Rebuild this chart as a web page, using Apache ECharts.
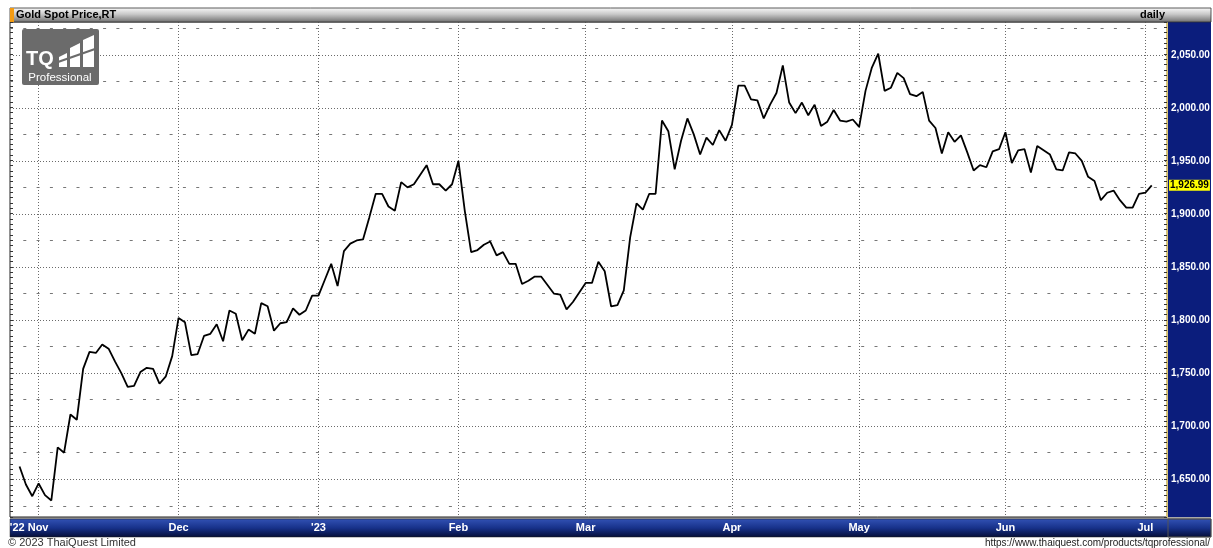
<!DOCTYPE html>
<html><head><meta charset="utf-8">
<script src="https://cdn.jsdelivr.net/npm/echarts@6/dist/echarts.min.js"></script>
<style>html,body{margin:0;padding:0;background:#fff;}#c{width:1213px;height:548px;}</style>
</head><body><div id="c"></div>
<script>
// ---- data ----
const chartTitle = 'Gold Spot Price,RT';
const periodLabel = 'daily';
const startDate = '2022-10-27';
const endDate = '2023-07-04';
const prices = [
 1662,1645,1634,1646,1635,1630,1680,1675,1711,1706,
 1754,1770,1769,1777,1773,1761,1750,1737,1738,1751,
 1755,1754,1740,1747,1766,1802,1798,1767,1768,1785,
 1787,1796,1780,1809,1806,1781,1791,1787,1816,1813,
 1790,1797,1798,1811,1805,1809,1823,1823,1838,1853,
 1832,1865,1872,1875,1876,1897,1919,1919,1907,1903,
 1930,1925,1928,1937,1946,1928,1928,1922,1928,1950,
 1903,1864,1866,1871,1874,1861,1864,1853,1853,1834,
 1837,1841,1841,1833,1825,1824,1810,1817,1826,1835,
 1835,1855,1846,1813,1814,1828,1878,1910,1904,1919,
 1919,1988,1978,1942,1969,1990,1975,1956,1972,1965,
 1979,1969,1984,2021,2021,2008,2007,1990,2003,2014,
 2040,2005,1995,2005,1993,2003,1983,1987,1998,1988,
 1987,1989,1982,2016,2038,2051,2016,2019,2033,2028,
 2013,2011,2015,1988,1981,1957,1977,1968,1974,1958,
 1941,1946,1944,1959,1961,1977,1948,1960,1961,1939,
 1964,1960,1956,1942,1941,1958,1957,1950,1935,1931,
 1913,1920,1922,1913,1906,1906,1919,1920,1926.99
];
const monthLabels = ["'22 Nov","Dec","'23","Feb","Mar","Apr","May","Jun","Jul"];
const yLabelValues = [1650,1700,1750,1800,1850,1900,1950,2000,2050];
const yDashValues = [1625,1675,1725,1775,1825,1875,1925,1975,2025,2075];
const copyrightText = '\u00a9 2023 ThaiQuest Limited';
const urlText = 'https://www.thaiquest.com/products/tqprofessional/';

// ---- derived ----
function weekdays(s, e) {
  const out = [];
  let d = new Date(s + 'T00:00:00Z');
  const end = new Date(e + 'T00:00:00Z');
  while (d <= end) {
    const w = d.getUTCDay();
    if (w !== 0 && w !== 6) out.push(d.toISOString().slice(0, 10));
    d = new Date(d.getTime() + 86400000);
  }
  return out;
}
const dates = weekdays(startDate, endDate);
const monthStarts = [];
for (let i = 1; i < dates.length; i++) {
  if (dates[i].slice(0, 7) !== dates[i - 1].slice(0, 7)) monthStarts.push(i);
}
const seriesData = prices.map((v, i) => [i, v]);
const lastPrice = prices[prices.length - 1];
const fmt = v => v.toLocaleString('en-US', {minimumFractionDigits: 2, maximumFractionDigits: 2});

const FONT = 'Liberation Sans, Arial, sans-serif';
const chart = echarts.init(document.getElementById('c'));
const yMin = 1614.4, yMax = 2080.9;
const GRID_C = '#6a6a6a';

chart.setOption({
  animation: false,
  backgroundColor: '#ffffff',
  grid: {left: 10, right: 46, top: 22, bottom: 31, show: true, backgroundColor: '#ffffff', borderColor: '#222', borderWidth: 1},
  xAxis: {
    type: 'value', min: -1.5, max: 180.4,
    axisLine: {show: false},
    axisTick: {show: false, customValues: monthStarts},
    axisLabel: {
      customValues: monthStarts, color: '#ffffff', fontSize: 11, fontWeight: 'bold', fontFamily: FONT, margin: 5,
      formatter: v => {
        const k = monthStarts.indexOf(v);
        return k === 0 ? '{f|' + monthLabels[k] + '}' : monthLabels[k];
      },
      rich: {f: {color: '#ffffff', fontSize: 11, fontWeight: 'bold', fontFamily: FONT, padding: [0, 19, 0, 0]}}
    },
    splitLine: {show: true, lineStyle: {color: GRID_C, type: [1, 2], width: 1}}
  },
  yAxis: [
    {
      type: 'value', position: 'right', min: yMin, max: yMax,
      axisLine: {show: true, onZero: false, lineStyle: {color: '#d8c47a', width: 2}},
      axisTick: {show: false, customValues: yLabelValues},
      axisLabel: {customValues: yLabelValues, formatter: v => fmt(v), color: '#ffffff', fontSize: 10, fontWeight: 'bold', fontFamily: FONT, margin: 4},
      splitLine: {show: true, lineStyle: {color: GRID_C, type: [1, 2], width: 1}}
    },
    {
      type: 'value', position: 'right', min: yMin, max: yMax,
      axisLine: {show: false, onZero: false},
      axisTick: {show: false, customValues: yDashValues},
      axisLabel: {show: false},
      splitLine: {show: true, lineStyle: {color: '#777', type: [3, 10.3], width: 1}}
    },
    {
      type: 'value', position: 'right', min: 1615, max: 2080, interval: 5,
      axisLine: {show: false, onZero: false},
      axisTick: {show: true, inside: true, length: 3, lineStyle: {color: '#333'}},
      axisLabel: {show: false}, splitLine: {show: false}
    },
    {
      type: 'value', position: 'left', min: 1615, max: 2080, interval: 5,
      axisLine: {show: false, onZero: false},
      axisTick: {show: true, inside: true, length: 3, lineStyle: {color: '#333'}},
      axisLabel: {show: false}, splitLine: {show: false}
    }
  ],
  series: [{
    type: 'line', data: seriesData, yAxisIndex: 0, showSymbol: false, symbol: 'none',
    lineStyle: {color: '#000', width: 1.8}, z: 5, clip: false,
    markLine: {
      silent: true, symbol: 'none',
      lineStyle: {color: 'rgba(0,0,0,0)', width: 0},
      emphasis: {disabled: true},
      label: {
        show: true, position: 'end', distance: 2, formatter: () => fmt(lastPrice),
        backgroundColor: '#ffff00', color: '#000', fontSize: 10, fontWeight: 'bold', fontFamily: FONT, padding: [1, 1, 0, 1]
      },
      data: [{yAxis: lastPrice}]
    }
  }],
  graphic: [
    // right value-axis panel
    {type: 'rect', z: -1, shape: {x: 1168, y: 22, width: 43, height: 496}, style: {fill: '#0b1d7c'}},
    // bottom axis band
    {type: 'rect', z: -1, shape: {x: 10, y: 517, width: 1201, height: 2}, style: {fill: '#a9a9a9'}},
    {type: 'rect', z: -1, shape: {x: 10, y: 519, width: 1201, height: 18},
     style: {fill: new echarts.graphic.LinearGradient(0, 0, 0, 1, [{offset: 0, color: '#3252b4'}, {offset: 0.5, color: '#17318a'}, {offset: 1, color: '#050d36'}]), stroke: '#222', lineWidth: 0.5}},
    {type: 'rect', z: -1, shape: {x: 1168, y: 519, width: 43, height: 18}, style: {fill: 'transparent', stroke: '#555', lineWidth: 1}},
    // header
    {type: 'rect', z: 50, shape: {x: 10, y: 8, width: 1201, height: 14},
     style: {fill: new echarts.graphic.LinearGradient(0, 0, 0, 1, [{offset: 0, color: '#fbfbfb'}, {offset: 0.45, color: '#c8c8c8'}, {offset: 1, color: '#6e6e6e'}]), stroke: '#333', lineWidth: 0.8}},
    {type: 'rect', z: 51, shape: {x: 10, y: 8, width: 4, height: 14}, style: {fill: '#f39b12'}},
    {type: 'text', z: 52, style: {x: 16, y: 15, text: chartTitle, fill: '#000', font: 'bold 11px ' + FONT, textVerticalAlign: 'middle'}},
    {type: 'text', z: 52, style: {x: 1165, y: 15, text: periodLabel, fill: '#000', font: 'bold 11px ' + FONT, textAlign: 'right', textVerticalAlign: 'middle'}},
    // logo
    {type: 'group', z: 60, children: [
      {type: 'rect', z: 60, shape: {x: 22, y: 29, width: 77, height: 56, r: 2}, style: {fill: '#6b6b6b'}},
      {type: 'text', z: 61, style: {x: 26, y: 59, text: 'TQ', fill: '#fff', font: 'bold 20px ' + FONT, textVerticalAlign: 'middle'}},
      {type: 'polygon', z: 61, shape: {points: [[59, 67], [59, 57], [67, 53], [67, 67]]}, style: {fill: '#fff'}},
      {type: 'polygon', z: 61, shape: {points: [[70, 67], [70, 48], [80, 43], [80, 67]]}, style: {fill: '#fff'}},
      {type: 'polygon', z: 61, shape: {points: [[83, 67], [83, 40], [94, 35], [94, 67]]}, style: {fill: '#fff'}},
      {type: 'line', z: 62, shape: {x1: 58, y1: 62, x2: 95, y2: 49}, style: {stroke: '#6b6b6b', lineWidth: 2.2}},
      {type: 'text', z: 61, style: {x: 60, y: 77.5, text: 'Professional', fill: '#fff', font: '11.5px ' + FONT, textAlign: 'center', textVerticalAlign: 'middle'}}
    ]},
    // footer
    {type: 'text', z: 10, style: {x: 8, y: 543, text: copyrightText, fill: '#333', font: '11px ' + FONT, textVerticalAlign: 'middle'}},
    {type: 'text', z: 10, style: {x: 1210, y: 543, text: urlText, fill: '#222', font: '10px ' + FONT, textAlign: 'right', textVerticalAlign: 'middle'}}
  ]
});
</script>
</body></html>
